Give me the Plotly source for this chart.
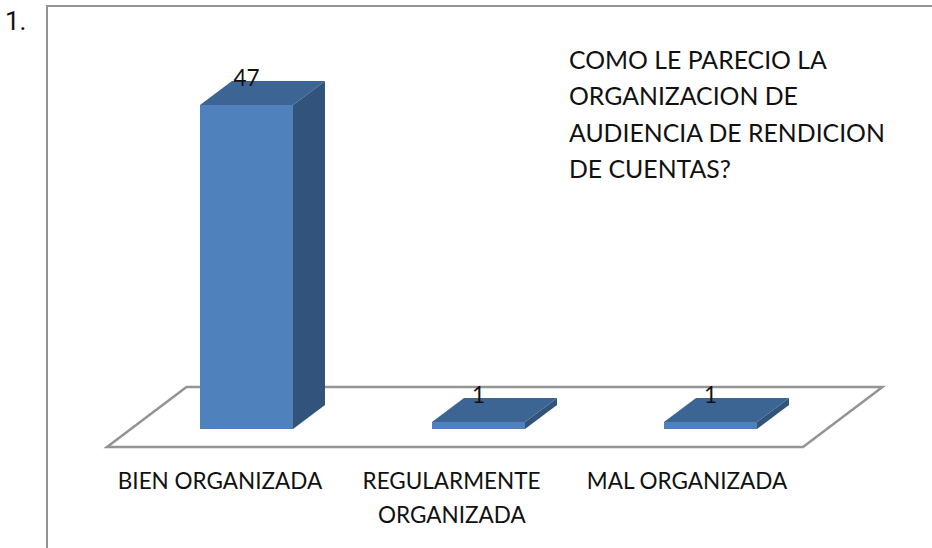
import plotly.graph_objects as go

tick_labels = ["BIEN ORGANIZADA", "REGULARMENTE", "MAL ORGANIZADA"]
tick_second_line = "ORGANIZADA"
values = [47, 1, 1]
title_lines = ["COMO LE PARECIO LA", "ORGANIZACION DE", "AUDIENCIA DE RENDICION", "DE CUENTAS?"]

W, H, PLOT_BOTTOM = 932, 548, 459
PX_PER_CAT = 232.0
PX_PER_VAL = 6.894
X0_PX, Y0_PX = 220.0, 429.0

xr = [-X0_PX / PX_PER_CAT, (W - X0_PX) / PX_PER_CAT]
yr = [(Y0_PX - PLOT_BOTTOM) / PX_PER_VAL, Y0_PX / PX_PER_VAL]

bar_w = 93 / PX_PER_CAT
bar_off = -20 / PX_PER_CAT
dx = 32 / PX_PER_CAT
dy = 24 / PX_PER_VAL

FRONT, TOP, SIDE = "#4f81bd", "#3d6594", "#32547c"
FONT = "Lato"
LINE = "#949494"

fig = go.Figure()
fig.add_trace(go.Bar(x=[0, 1, 2], y=values, width=bar_w, offset=bar_off,
                     marker=dict(color=FRONT, line=dict(width=0)), showlegend=False, hoverinfo="skip"))

for i, v in enumerate(values):
    l = i + bar_off
    r = l + bar_w
    fig.add_trace(go.Scatter(x=[l, r, r + dx, l + dx, l], y=[v, v, v + dy, v + dy, v],
                             mode="lines", fill="toself", fillcolor=TOP, line=dict(width=0),
                             showlegend=False, hoverinfo="skip"))
    fig.add_trace(go.Scatter(x=[r, r + dx, r + dx, r, r], y=[0, dy, v + dy, v, 0],
                             mode="lines", fill="toself", fillcolor=SIDE, line=dict(width=0),
                             showlegend=False, hoverinfo="skip"))

label_y = [v + 25 / PX_PER_VAL for v in values]
label_x = [i + bar_off + bar_w / 2 for i in range(len(values))]
fig.add_trace(go.Scatter(x=label_x, y=label_y, mode="text", text=[str(v) for v in values],
                         textposition="middle center", textfont=dict(family=FONT, size=22.5, color="#111111"),
                         cliponaxis=False, showlegend=False, hoverinfo="skip"))

# floor of the 3D chart
fl, fr = (107 - X0_PX) / PX_PER_CAT, (803 - X0_PX) / PX_PER_CAT
fy = (Y0_PX - 447) / PX_PER_VAL
fdx, fdy = 79.5 / PX_PER_CAT, 60 / PX_PER_VAL
floor = f"M {fl} {fy} L {fl + fdx} {fy + fdy} L {fr + fdx} {fy + fdy} L {fr} {fy} Z"

shapes = [dict(type="path", path=floor, xref="x", yref="y", layer="below",
               line=dict(color=LINE, width=2.5), fillcolor="rgba(0,0,0,0)")]
# outer frame
def py(px):
    return 1 - px / PLOT_BOTTOM
shapes.append(dict(type="path", xref="paper", yref="paper",
                   path=f"M {47 / W} {py(H + 2)} L {47 / W} {py(6)} L {(W + 2) / W} {py(6)}",
                   line=dict(color=LINE, width=2), layer="below"))

annotations = [dict(text=t, xref="paper", yref="paper", x=566.5 / W, y=py(y), xanchor="left", yanchor="middle",
                    showarrow=False, font=dict(family=FONT, size=24.8, color="#111111"))
               for t, y in zip(title_lines, [59, 95, 132, 168])]
annotations.append(dict(text="1.", xref="paper", yref="paper", x=3 / W, y=py(21), xanchor="left", yanchor="middle",
                        showarrow=False, font=dict(family="Roboto", size=26, color="#111111")))
annotations.append(dict(text=tick_second_line, xref="x", yref="paper", x=1 - 0.5 / PX_PER_CAT, y=py(514),
                        xanchor="center", yanchor="middle", showarrow=False,
                        font=dict(family=FONT, size=22.5, color="#111111")))

fig.update_layout(
    width=W, height=H, margin=dict(l=0, r=0, t=0, b=H - PLOT_BOTTOM),
    paper_bgcolor="white", plot_bgcolor="white", showlegend=False,
    shapes=shapes, annotations=annotations,
    xaxis=dict(range=xr, tickvals=[0, 1 - 0.5 / PX_PER_CAT, 2 + 3 / PX_PER_CAT], ticktext=tick_labels,
               showgrid=False, zeroline=False,
               showline=False, ticks="outside", ticklen=2, tickcolor="rgba(0,0,0,0)",
               tickfont=dict(family=FONT, size=22.5, color="#111111")),
    yaxis=dict(range=yr, visible=False),
)
fig.write_html("out.html", config=dict(displayModeBar=False),
               post_script="document.body.style.margin='0';document.body.style.overflow='hidden';")
